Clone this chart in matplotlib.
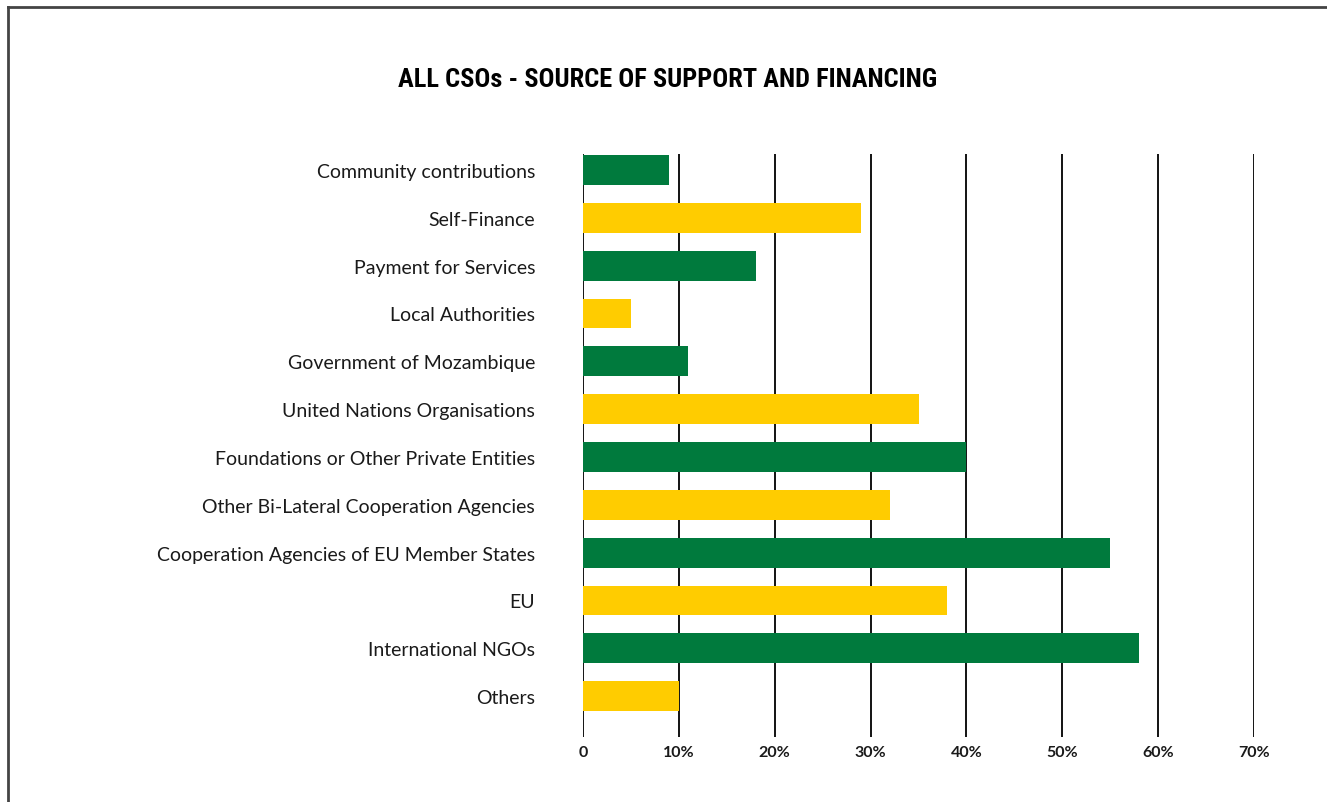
import matplotlib
matplotlib.use('Agg')
import matplotlib.pyplot as plt
from matplotlib.lines import Line2D

# funding sources, top to bottom
sources = ['Community contributions', 'Self-Finance', 'Payment for Services',
           'Local Authorities', 'Government of Mozambique',
           'United Nations Organisations', 'Foundations or Other Private Entities',
           'Other Bi-Lateral Cooperation Agencies',
           'Cooperation Agencies of EU Member States', 'EU',
           'International NGOs', 'Others']
shares = [9, 29, 18, 5, 11, 35, 40, 32, 55, 38, 58, 10]
ticks = [0, 10, 20, 30, 40, 50, 60, 70]
tick_labels = ['0', '10%', '20%', '30%', '40%', '50%', '60%', '70%']

green = '#007A3D'
yellow = '#FFCC00'
colors = [green if i % 2 == 0 else yellow for i in range(len(sources))]

W, H = 1327, 803
fig = plt.figure(figsize=(W / 100, H / 100), dpi=100)
fig.patch.set_facecolor('white')

# frame lines (left and top edge only)
fig.add_artist(Line2D([7.5 / W, 7.5 / W], [0, 1 - 8 / H], transform=fig.transFigure,
                      color='#444444', lw=2))
fig.add_artist(Line2D([7.5 / W, 1], [1 - 8 / H, 1 - 8 / H], transform=fig.transFigure,
                      color='#444444', lw=2))

ax = fig.add_axes([583 / W, 1 - 738 / H, (1254 - 583) / W, (738 - 155) / H])
y = list(range(len(sources)))
ax.barh(y, shares, height=0.625, color=colors, zorder=3)

ax.set_xlim(0, 70)
ax.set_ylim(len(sources) - 1 + 41 / 48, -16 / 48)
for t in ticks:
    ax.axvline(t, color='black', lw=1.3, zorder=2)

for s in ax.spines.values():
    s.set_visible(False)

ax.set_xticks(ticks)
ax.set_xticklabels(tick_labels, fontsize=11.5, fontweight='bold', color='#1a1a1a',
                   family='Lato')
ax.tick_params(axis='x', length=0, pad=6)
ax.set_yticks(y)
ax.set_yticklabels(sources, fontsize=14, color='#1a1a1a', family='Lato')
ax.tick_params(axis='y', length=0, pad=34.5)

fig.text(668 / W, 1 - 80 / H, 'ALL CSOs - SOURCE OF SUPPORT AND FINANCING',
         ha='center', va='center', fontsize=19, fontweight='bold',
         fontstretch='condensed',
         family=['Roboto Condensed', 'DejaVu Sans'], color='black')

fig.savefig('out.png', dpi=100, facecolor='white')
